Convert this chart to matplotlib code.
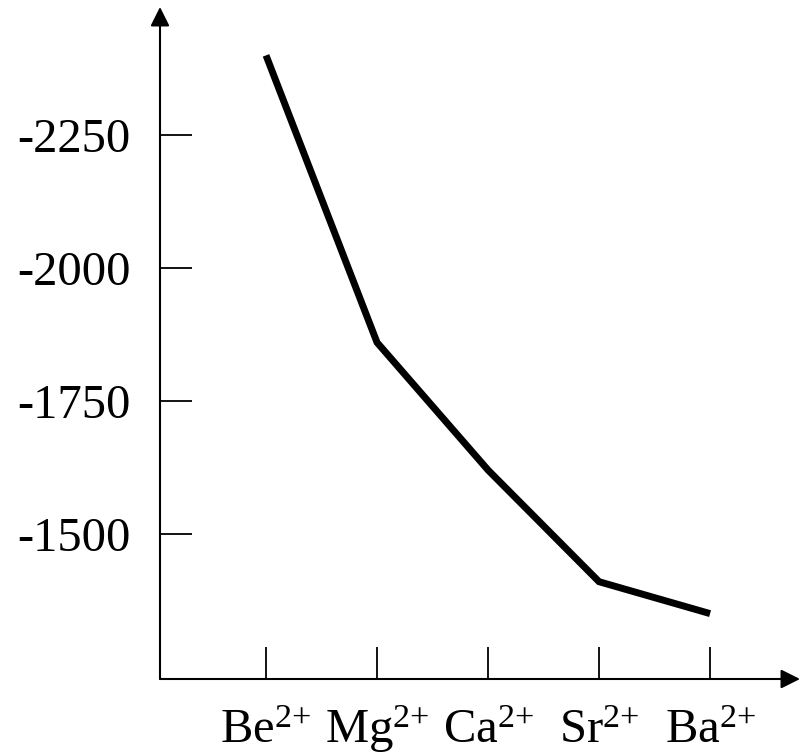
import matplotlib
matplotlib.use("Agg")
import matplotlib.pyplot as plt

plt.rcParams['font.family'] = ['Liberation Serif', 'DejaVu Serif']
plt.rcParams['mathtext.fontset'] = 'custom'
plt.rcParams['mathtext.rm'] = 'Liberation Serif'
plt.rcParams['mathtext.it'] = 'Liberation Serif'

# Data
ions = ["Be", "Mg", "Ca", "Sr", "Ba"]
enthalpy = [-2400, -1860, -1620, -1410, -1350]
ytick_values = [-2250, -2000, -1750, -1500]
ytick_labels = ["-2250", "-2000", "-1750", "-1500"]

fig = plt.figure(figsize=(8, 7.54), dpi=100)
ax = fig.add_axes([160/800, 75/754, 640/800, 672/754])

x = list(range(len(ions)))
ax.plot(x, enthalpy, color='black', lw=5.0, solid_joinstyle='miter', solid_capstyle='butt')

ax.set_xlim(-0.955, 4.81)
ax.set_ylim(-1227, -2491)

for s in ax.spines.values():
    s.set_visible(False)

ax.annotate('', xy=(0, 1), xytext=(0, 0), xycoords='axes fraction',
            arrowprops=dict(arrowstyle='-|>', lw=1.5, color='black',
                            mutation_scale=29, shrinkA=0, shrinkB=0))
ax.annotate('', xy=(1, 0), xytext=(0, 0), xycoords='axes fraction',
            arrowprops=dict(arrowstyle='-|>', lw=1.5, color='black',
                            mutation_scale=29, shrinkA=0, shrinkB=0))

ax.set_yticks(ytick_values)
ax.set_yticklabels(ytick_labels)
ax.set_xticks(x)
ax.set_xticklabels([f"{n}$^{{2{{+}}}}$" for n in ions])

ax.tick_params(axis='both', direction='in', length=23, width=1.3, color='black',
               labelsize=35)
ax.tick_params(axis='y', pad=21)
ax.tick_params(axis='x', pad=46)
for lbl in ax.get_xticklabels():
    lbl.set_va('baseline')

fig.savefig("out.png", dpi=100)
